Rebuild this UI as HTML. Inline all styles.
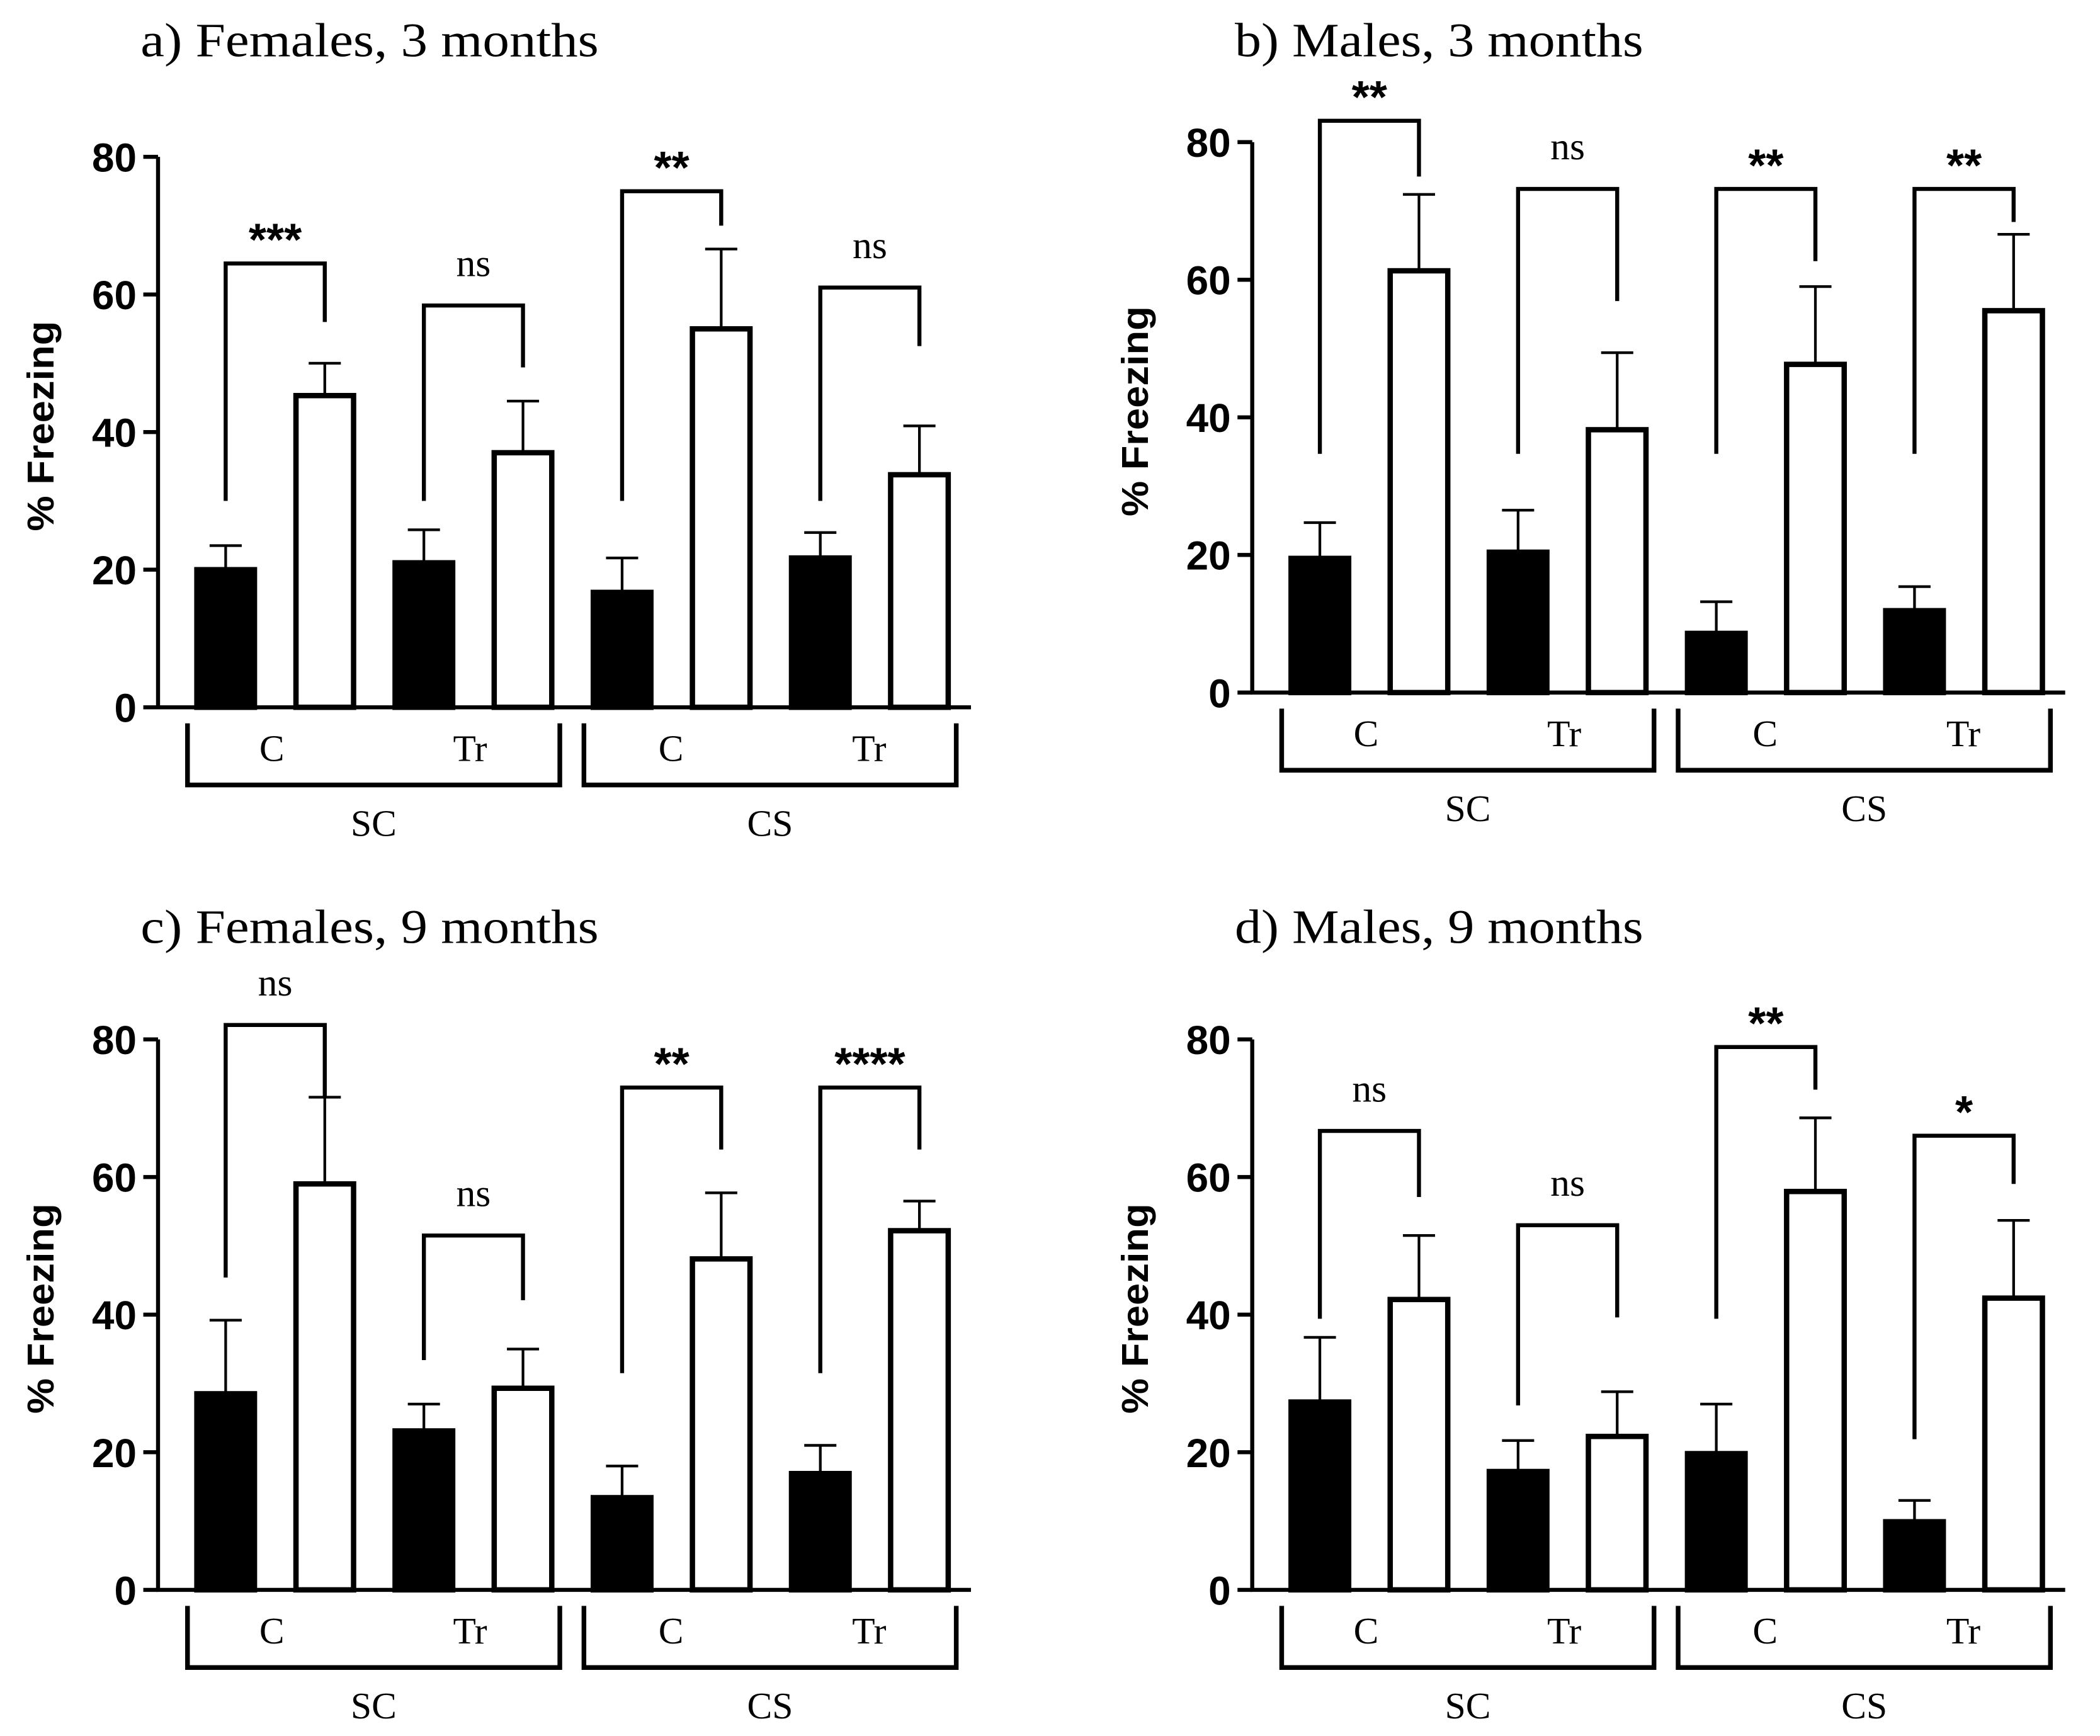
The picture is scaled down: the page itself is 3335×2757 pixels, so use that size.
<!DOCTYPE html>
<html><head><meta charset="utf-8"><style>
html,body{margin:0;padding:0;background:#fff;}
svg{display:block;}
</style></head><body>
<svg id="fig" xmlns="http://www.w3.org/2000/svg" width="3335" height="2757" viewBox="0 0 1568 1296"></svg>
<script>
// ---- data ----
const groupLabels = ["C","Tr","C","Tr"];
const conditionLabels = ["SC","CS"];
const yTicks = [0,20,40,60,80];
const titles = ["a) Females, 3 months","b) Males, 3 months","c) Females, 9 months","d) Males, 9 months"];
// black = first bar of each pair, white = second
const blackA = [20, 21, 16.7, 21.7];   const blackErrA = [23.5, 25.8, 21.7, 25.4];
const whiteA = [45.3, 37, 55, 33.8];   const whiteErrA = [50, 44.5, 66.6, 40.9];
const sigA = ["***","ns","**","ns"];
const brTopA = [64.5, 58.4, 75, 61];   const brLeftA = [30, 30, 30, 30];  const brRightA = [56, 49.4, 70, 52.5];

const blackB = [19.5, 20.4, 8.6, 11.9]; const blackErrB = [24.7, 26.5, 13.2, 15.4];
const whiteB = [61.3, 38.2, 47.7, 55.5]; const whiteErrB = [72.4, 49.4, 59, 66.6];
const sigB = ["**","ns","**","**"];
const brTopB = [83.1, 73.2, 73.2, 73.2]; const brLeftB = [34.7, 34.7, 34.7, 34.7]; const brRightB = [75, 56.9, 62.7, 68.4];

const blackC = [28.5, 23.1, 13.4, 16.9]; const blackErrC = [39.2, 27, 18, 21];
const whiteC = [59, 29.3, 48.1, 52.2];  const whiteErrC = [71.6, 35, 57.7, 56.5];
const sigC = ["ns","ns","**","****"];
const brTopC = [82.1, 51.5, 73, 73];    const brLeftC = [45.4, 33.4, 31.5, 31.5]; const brRightC = [71.6, 42.1, 64, 64];

const blackD = [27.3, 17.2, 19.8, 9.9]; const blackErrD = [36.7, 21.7, 27, 13];
const whiteD = [42.2, 22.3, 57.9, 42.4]; const whiteErrD = [51.5, 28.8, 68.6, 53.7];
const sigD = ["ns","ns","**","*"];
const brTopD = [66.7, 53, 78.9, 66];    const brLeftD = [39.4, 26.8, 39.4, 21.9]; const brRightD = [57.1, 39.6, 72.7, 59];

const panels = [
 {dx:0,dy:0,tdy:0,black:blackA,blackErr:blackErrA,white:whiteA,whiteErr:whiteErrA,sig:sigA,top:brTopA,left:brLeftA,right:brRightA},
 {dx:817,dy:-11,tdy:11,black:blackB,blackErr:blackErrB,white:whiteB,whiteErr:whiteErrB,sig:sigB,top:brTopB,left:brLeftB,right:brRightB},
 {dx:0,dy:659,tdy:3,black:blackC,blackErr:blackErrC,white:whiteC,whiteErr:whiteErrC,sig:sigC,top:brTopC,left:brLeftC,right:brRightC},
 {dx:817,dy:659,tdy:3,black:blackD,blackErr:blackErrD,white:whiteD,whiteErr:whiteErrD,sig:sigD,top:brTopD,left:brLeftD,right:brRightD}
];

const NS="http://www.w3.org/2000/svg";
const svg=document.getElementById('fig');
function mk(tag,attrs,parent){const e=document.createElementNS(NS,tag);for(const k in attrs)e.setAttribute(k,attrs[k]);(parent||svg).appendChild(e);return e;}
const SERIF='"Liberation Serif", serif', SANS='"Liberation Sans", sans-serif';

panels.forEach((p,pi)=>{
  const g=mk('g',{transform:`translate(${p.dx},${p.dy})`});
  
  
  const x0=118, y0=528, yTop=117;
  const yS=v=>y0-(v/80)*(y0-yTop);
  const barX=i=>145+i*74;  // i = 0..7
  const bw=47;
  // title
  const t=mk('text',{x:105,y:42+p.tdy,'font-family':SERIF,'font-size':36,fill:'#000',textLength:pi%2===0?342:305,lengthAdjust:'spacingAndGlyphs'},g); t.textContent=titles[pi];
   
  // y label
  const yl=mk('text',{x:0,y:0,transform:`translate(40,318) rotate(-90)`,'text-anchor':'middle','font-family':SANS,'font-weight':'bold','font-size':28,fill:'#000',textLength:157,lengthAdjust:'spacingAndGlyphs'},g);
  yl.textContent='% Freezing';
   
  // axes
  const ax=mk('path',{d:`M${x0},${yTop} V${y0} H725`,stroke:'#000','stroke-width':3,fill:'none'},g);
   
  yTicks.forEach(v=>{
    const tk=mk('line',{x1:x0-11,x2:x0,y1:yS(v),y2:yS(v),stroke:'#000','stroke-width':3},g);
     
    const tl=mk('text',{x:x0-16,y:yS(v)+11,'text-anchor':'end','font-family':SANS,'font-weight':'bold','font-size':30,fill:'#000'},g);
    tl.textContent=v;
     
  });
  // bars
  for(let k=0;k<4;k++){
    [[p.black[k],p.blackErr[k],'#000',2*k],[p.white[k],p.whiteErr[k],'#fff',2*k+1]].forEach(([v,e,fill,i])=>{
      const x=barX(i), cx=x+bw/2;
      const er=mk('path',{d:`M${cx},${yS(v)} V${yS(e)} M${cx-12},${yS(e)} H${cx+12}`,stroke:'#000','stroke-width':2,fill:'none'},g);
       
      const b=mk('rect',{x:x+2,y:yS(v),width:bw-4,height:y0-yS(v),fill:fill,stroke:'#000','stroke-width':4},g);
       
    });
    // significance bracket
    const lx=barX(2*k)+bw/2, rx=barX(2*k+1)+bw/2;
    const br=mk('path',{d:`M${lx},${yS(p.left[k])} V${yS(p.top[k])} H${rx} V${yS(p.right[k])}`,stroke:'#000','stroke-width':3,fill:'none'},g);
     
    const s=p.sig[k], isNs=s==='ns';
    const st=mk('text',{x:(lx+rx)/2,y:yS(p.top[k])-(isNs?22:6),'text-anchor':'middle','font-family':isNs?SERIF:SANS,'font-weight':isNs?'normal':'bold','font-size':isNs?29:34,fill:'#000'},g);
    st.textContent=s;
     
    // group label
    const gl=mk('text',{x:k%2===0?203:351,y:568,'text-anchor':'middle','font-family':SERIF,'font-size':28,fill:'#000'},g);
    gl.setAttribute('transform',`translate(${k>=2?298:0},0)`);
    gl.textContent=groupLabels[k];
     
  }
  // condition brackets
  for(let c=0;c<2;c++){
    const bx1=140+c*296, bx2=418+c*296;
    const cb=mk('path',{d:`M${bx1},540 V586 H${bx2} V540`,stroke:'#000','stroke-width':3.5,fill:'none'},g);
     
    const cl=mk('text',{x:(bx1+bx2)/2,y:624,'text-anchor':'middle','font-family':SERIF,'font-size':28,fill:'#000'},g);
    cl.textContent=conditionLabels[c];
     
  }
});
</script>
</body></html>
